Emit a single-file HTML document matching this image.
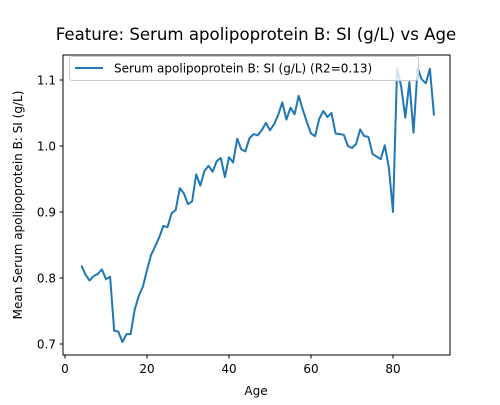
<!DOCTYPE html>
<html><head><meta charset="utf-8"><style>
body{margin:0;background:#fff;width:500px;height:400px;overflow:hidden}
text{font-family:"DejaVu Sans","Liberation Sans",sans-serif;fill:#000}
</style></head><body>
<svg id="chart" width="500" height="400">
<rect width="500" height="400" fill="#fff"/>
<text x="256" y="40" font-size="16.6" text-anchor="middle">Feature: Serum apolipoprotein B: SI (g/L) vs Age</text>
<g id="xt"></g>
<g id="yt"></g>
<text x="256" y="395" font-size="12" text-anchor="middle">Age</text>
<text transform="translate(22,205) rotate(-90)" font-size="12" text-anchor="middle">Mean Serum apolipoprotein B: SI (g/L)</text>
<path id="line" fill="none" stroke="#1f77b4" stroke-width="2" stroke-linejoin="round"/>
<rect x="63" y="55" width="387" height="300" fill="none" stroke="#000" stroke-width="1"/>
<g>
<rect x="69.5" y="56.5" width="349" height="24" rx="3" fill="#fff" fill-opacity="0.8" stroke="#ccc"/>
<line x1="75" y1="68" x2="103" y2="68" stroke="#1f77b4" stroke-width="2"/>
<text x="114" y="72.5" font-size="12">Serum apolipoprotein B: SI (g/L) (R2=0.13)</text>
</g>
</svg>
<script>
const ages=[4,5,6,7,8,9,10,11,12,13,14,15,16,17,18,19,20,21,22,23,24,25,26,27,28,29,30,31,32,33,34,35,36,37,38,39,40,41,42,43,44,45,46,47,48,49,50,51,52,53,54,55,56,57,58,59,60,61,62,63,64,65,66,67,68,69,70,71,72,73,74,75,76,77,78,79,80,81,82,83,84,85,86,87,88,89,90];
const values=[0.819,0.805,0.796,0.803,0.806,0.813,0.798,0.802,0.72,0.719,0.703,0.715,0.715,0.752,0.773,0.787,0.812,0.835,0.848,0.862,0.879,0.877,0.898,0.903,0.936,0.928,0.912,0.916,0.957,0.940,0.962,0.970,0.961,0.977,0.982,0.953,0.983,0.975,1.011,0.995,0.992,1.012,1.018,1.016,1.024,1.035,1.024,1.033,1.047,1.066,1.040,1.058,1.048,1.076,1.055,1.036,1.019,1.015,1.041,1.053,1.044,1.050,1.019,1.018,1.017,1.000,0.997,1.003,1.025,1.015,1.014,0.988,0.984,0.980,1.001,0.967,0.900,1.118,1.090,1.043,1.097,1.020,1.118,1.101,1.095,1.117,1.046];
const xTicks=[0,20,40,60,80];
const yTicks=[0.7,0.8,0.9,1.0,1.1];
const NS="http://www.w3.org/2000/svg";
const X=v=>65+v*4.1;
const Y=v=>344-(v-0.7)*660;
document.getElementById('line').setAttribute('d',ages.map((a,i)=>(i?'L':'M')+X(a).toFixed(1)+' '+Y(values[i]).toFixed(1)).join(''));
const xt=document.getElementById('xt'),yt=document.getElementById('yt');
xTicks.forEach(t=>{
 const l=document.createElementNS(NS,'line');
 
 
 l.setAttribute('x1',X(t));l.setAttribute('x2',X(t));l.setAttribute('y1',355);l.setAttribute('y2',358.5);l.setAttribute('stroke','#000');
 xt.appendChild(l);
 const s=document.createElementNS(NS,'text');
 
 
 s.setAttribute('x',X(t));s.setAttribute('y',373);s.setAttribute('font-size','12');s.setAttribute('text-anchor','middle');
 s.textContent=t;xt.appendChild(s);
});
yTicks.forEach(t=>{
 const l=document.createElementNS(NS,'line');
 
 
 l.setAttribute('x1',59.5);l.setAttribute('x2',63);l.setAttribute('y1',Y(t));l.setAttribute('y2',Y(t));l.setAttribute('stroke','#000');
 yt.appendChild(l);
 const s=document.createElementNS(NS,'text');
 
 
 s.setAttribute('x',56);s.setAttribute('y',Y(t)+4.5);s.setAttribute('font-size','12');s.setAttribute('text-anchor','end');
 s.textContent=t.toFixed(1);yt.appendChild(s);
});
</script>
</body></html>
